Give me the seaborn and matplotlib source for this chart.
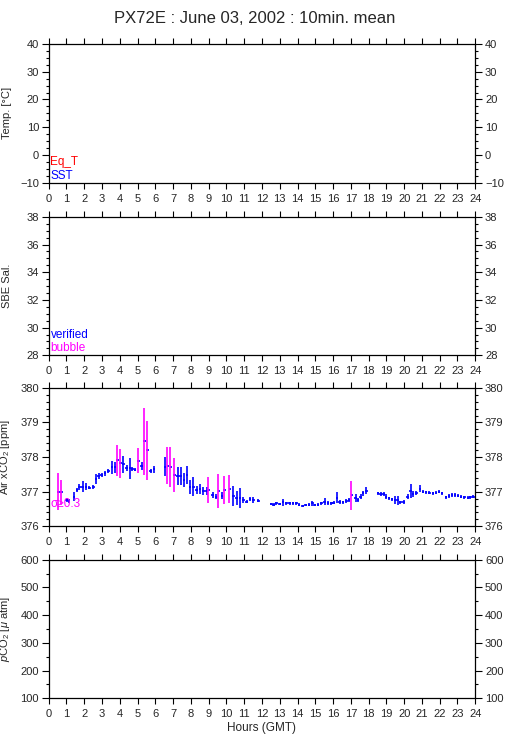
import matplotlib
matplotlib.use("Agg")
import matplotlib.pyplot as plt
from matplotlib.ticker import MultipleLocator
import numpy as np
import pandas as pd
import seaborn as sns

# Air xCO2 10-min means (hour GMT, mean ppm, std ppm)
hours = [0.54, 0.73, 1.01, 1.14, 1.43, 1.58, 1.73, 1.91, 2.10, 2.29, 2.51, 2.66,
         2.81, 2.98, 3.17, 3.36, 3.55, 3.73, 3.86, 4.05, 4.20, 4.39, 4.58, 4.71,
         4.86, 5.05, 5.23, 5.38, 5.55, 5.74, 5.93,
         6.55, 6.70, 6.89, 7.07, 7.26, 7.43, 7.62, 7.77, 7.95, 8.14, 8.33, 8.51,
         8.70, 8.89, 9.03, 9.23, 9.42, 9.57, 9.75, 9.89, 10.21, 10.39, 10.58,
         10.77, 10.96, 11.14, 11.33, 11.52, 11.80,
         12.53, 12.66, 12.81, 13.00, 13.19, 13.37, 13.56, 13.75, 13.94, 14.09,
         14.28, 14.46, 14.65, 14.84, 14.97, 15.16, 15.34, 15.53, 15.72, 15.90,
         16.03, 16.22, 16.37, 16.56, 16.75, 16.90, 17.07, 17.27, 17.40, 17.55,
         17.68, 17.87,
         18.52, 18.67, 18.84, 18.99, 19.14, 19.31, 19.48, 19.63, 19.78, 19.97,
         20.19, 20.36, 20.51, 20.68, 20.90, 21.05, 21.24, 21.42, 21.61, 21.80,
         21.95, 22.12, 22.36, 22.51, 22.68, 22.86, 23.02, 23.20, 23.39, 23.58,
         23.73, 23.90]
xco2 = [377.00, 376.98, 376.76, 376.73, 376.86, 377.05, 377.13, 377.14, 377.14,
        377.12, 377.14, 377.36, 377.45, 377.48, 377.53, 377.60, 377.70, 377.70,
        377.91, 377.82, 377.79, 377.69, 377.67, 377.66, 377.64, 377.89, 377.74,
        378.45, 378.20, 377.60, 377.65,
        377.72, 377.75, 377.72, 377.48, 377.45, 377.45, 377.34, 377.48, 377.13,
        377.14, 377.05, 377.07, 377.03, 377.03, 377.05, 376.90, 376.86, 377.02,
        376.88, 377.05, 377.08, 376.88, 376.83, 376.83, 376.76, 376.71, 376.79,
        376.76, 376.74,
        376.64, 376.63, 376.66, 376.65, 376.70, 376.66, 376.66, 376.66, 376.66,
        376.62, 376.60, 376.61, 376.62, 376.66, 376.61, 376.62, 376.66, 376.71,
        376.68, 376.66, 376.68, 376.83, 376.70, 376.69, 376.73, 376.76, 376.90,
        376.81, 376.76, 376.86, 376.95, 377.03,
        376.95, 376.93, 376.93, 376.86, 376.81, 376.78, 376.76, 376.76, 376.69,
        376.71, 376.86, 377.03, 376.93, 376.97, 377.08, 377.00, 376.98, 376.97,
        376.95, 376.97, 377.00, 376.95, 376.84, 376.88, 376.90, 376.90, 376.88,
        376.86, 376.84, 376.83, 376.84, 376.86]
xco2_sd = [0.53, 0.37, 0.07, 0.05, 0.12, 0.05, 0.08, 0.16, 0.10, 0.05, 0.06, 0.15,
           0.08, 0.06, 0.08, 0.06, 0.18, 0.17, 0.45, 0.42, 0.25, 0.08, 0.29, 0.06,
           0.04, 0.36, 0.12, 0.98, 0.85, 0.06, 0.10,
           0.27, 0.53, 0.58, 0.48, 0.25, 0.25, 0.21, 0.27, 0.21, 0.27, 0.12, 0.15,
           0.12, 0.12, 0.37, 0.08, 0.08, 0.50, 0.10, 0.41, 0.41, 0.29, 0.20, 0.29,
           0.10, 0.05, 0.06, 0.08, 0.05,
           0.03, 0.03, 0.04, 0.03, 0.10, 0.04, 0.04, 0.04, 0.04, 0.04, 0.03, 0.03,
           0.04, 0.08, 0.03, 0.04, 0.04, 0.10, 0.05, 0.04, 0.04, 0.16, 0.05, 0.04,
           0.05, 0.05, 0.42, 0.12, 0.06, 0.06, 0.08, 0.10,
           0.05, 0.05, 0.06, 0.06, 0.05, 0.05, 0.12, 0.13, 0.05, 0.06, 0.06, 0.20,
           0.08, 0.06, 0.10, 0.05, 0.04, 0.04, 0.04, 0.05, 0.04, 0.05, 0.05, 0.05,
           0.05, 0.05, 0.04, 0.05, 0.04, 0.04, 0.05, 0.04]

SIGMA_LIMIT = 0.3

panel_ylims = [(-10, 40), (28, 38), (376, 380), (100, 600)]
panel_major = [10, 2, 1, 100]
panel_minor = [2.5, 0.5, 0.2, 50]
panel_labels = ["Temp. [°C]", "SBE Sal.", "Air xCO$_2$ [ppm]", "$p$CO$_2$ [$\\mu$ atm]"]

sns.set_theme(style="ticks")
plt.rcParams["font.family"] = ["Liberation Sans", "DejaVu Sans"]
plt.rcParams["mathtext.fontset"] = "custom"
plt.rcParams["mathtext.rm"] = "Liberation Sans"
plt.rcParams["mathtext.it"] = "Liberation Sans:italic"

df = pd.DataFrame({"hour": hours, "xco2": xco2, "sd": xco2_sd})
df["flag"] = np.where(df["sd"] >= SIGMA_LIMIT, "bubble", "verified")

fig = plt.figure(figsize=(5.09, 7.39), dpi=100)
bottoms = [0.753, 0.5192, 0.2878, 0.0551]
axes = [fig.add_axes([0.0957, b, 0.838, 0.1874]) for b in bottoms]

for ax, ylim, maj, mnr, lab in zip(axes, panel_ylims, panel_major, panel_minor, panel_labels):
    ax.set_xlim(0, 24)
    ax.set_ylim(*ylim)
    ax.xaxis.set_major_locator(MultipleLocator(1))
    ax.yaxis.set_major_locator(MultipleLocator(maj))
    ax.yaxis.set_minor_locator(MultipleLocator(mnr))
    ax.tick_params(axis="x", which="major", top=True, bottom=True, direction="out",
                   length=4, width=0.8, labelsize=8, pad=4, color="black")
    ax.tick_params(axis="y", which="major", left=True, right=True, labelright=True,
                   direction="out", length=5, width=0.8, labelsize=8, pad=2, color="black")
    ax.tick_params(axis="y", which="minor", left=True, right=True, direction="out",
                   length=2.5, width=0.8, color="black")
    for sp in ax.spines.values():
        sp.set_visible(True)
        sp.set_linewidth(0.9)
        sp.set_color("black")
    ax.set_facecolor("white")
    ax.set_ylabel(lab, fontsize=8)
    ax.yaxis.set_label_coords(-0.085, 0.5)

# Air xCO2 panel
ax3 = axes[2]
ok = df[df["flag"] == "verified"]
bad = df[df["flag"] == "bubble"]
ax3.errorbar(df["hour"], df["xco2"], xerr=1 / 14, fmt="none", ecolor="blue",
             elinewidth=1.2, capsize=0)
ax3.errorbar(ok["hour"], ok["xco2"], yerr=ok["sd"], fmt="none", ecolor="blue",
             elinewidth=1.2, capsize=0)
ax3.errorbar(bad["hour"] - 0.04, bad["xco2"], yerr=bad["sd"], fmt="none",
             ecolor="magenta", elinewidth=1.2, capsize=0)
ax3.text(0.1, 376.65, "σ≥0.3", color="magenta", fontsize=8.5, va="center")

axes[0].text(0.1, -2.5, "Eq_T", color="red", fontsize=8.5, va="center")
axes[0].text(0.1, -7.5, "SST", color="blue", fontsize=8.5, va="center")
axes[1].text(0.1, 29.5, "verified", color="blue", fontsize=8.5, va="center")
axes[1].text(0.1, 28.5, "bubble", color="magenta", fontsize=8.5, va="center")

axes[3].set_xlabel("Hours (GMT)", fontsize=8.5, labelpad=2)
fig.suptitle("PX72E : June 03, 2002 : 10min. mean", fontsize=12, y=0.985)

fig.savefig("out.png", dpi=100, facecolor="white")
